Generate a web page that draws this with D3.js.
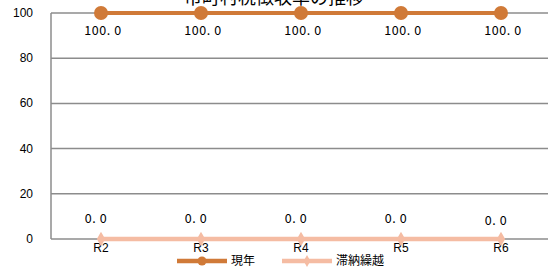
<!DOCTYPE html>
<html><head><meta charset="utf-8">
<script src="https://cdn.jsdelivr.net/npm/d3@7"></script>
<style>body{margin:0;background:#fff;overflow:hidden}</style>
</head><body>
<svg id="c" width="548" height="268"></svg>
<script>
const title = "市町村税徴収率の推移";
const categories = ["R2","R3","R4","R5","R6"];
const seriesNames = ["現年","滞納繰越"];
const currentYear = [100.0,100.0,100.0,100.0,100.0];
const arrears = [0.0,0.0,0.0,0.0,0.0];
const yTicks = [0,20,40,60,80,100];

const svg = d3.select("#c");
const W = 548, H = 268;
const m = {l:51, t:13, r:-3, b:29};
const x = d3.scaleBand().domain(categories).range([m.l, W - m.r]).padding(0);
const y = d3.scaleLinear().domain([0,100]).range([H - m.b, m.t]);
const cx = d => x(d) + x.bandwidth()/2;
const colA = "#D07A38", colB = "#F5BCA3", grid = "#8c8c8c";

svg.append("g").selectAll("line").data(yTicks).join("line")
  .attr("x1", m.l).attr("x2", W).attr("y1", d=>y(d)).attr("y2", d=>y(d))
  .attr("stroke", grid).attr("stroke-width", 1.5);
svg.append("line").attr("x1", m.l).attr("x2", m.l).attr("y1", y(100)).attr("y2", y(0))
  .attr("stroke", grid).attr("stroke-width", 1.5);
svg.append("g").selectAll("text").data(yTicks).join("text")
  .attr("x", 33).attr("y", d=>y(d)+4).attr("text-anchor","end")
  .attr("font-family","Liberation Sans, Arial, sans-serif").attr("font-size",12).attr("fill","#000")
  .text(d=>d);
svg.append("g").selectAll("text").data(categories).join("text")
  .attr("x", d=>cx(d)).attr("y", 252).attr("text-anchor","middle")
  .attr("font-family","Liberation Sans, Arial, sans-serif").attr("font-size",12).attr("fill","#000")
  .text(d=>d);

svg.append("text").attr("x", 274).attr("y", 4).attr("text-anchor","middle")
  .attr("font-family","Noto Sans CJK JP, sans-serif").attr("font-size",18).attr("fill","#000")
  .text(title);

const line = d3.line().x((d,i)=>cx(categories[i])).y(d=>y(d));
svg.append("path").datum(arrears).attr("d", line).attr("fill","none")
  .attr("stroke", colB).attr("stroke-width", 4.5);
svg.append("g").selectAll("path").data(arrears).join("path")
  .attr("d", d3.symbol(d3.symbolDiamond, 60))
  .attr("transform",(d,i)=>`translate(${cx(categories[i])},${y(d)})`)
  .attr("fill", colB);
svg.append("path").datum(currentYear).attr("d", line).attr("fill","none")
  .attr("stroke", colA).attr("stroke-width", 4);
svg.append("g").selectAll("circle").data(currentYear).join("circle")
  .attr("cx",(d,i)=>cx(categories[i])).attr("cy",d=>y(d)).attr("r",7)
  .attr("fill", colA);

const lblFont = "Noto Sans CJK JP, sans-serif";
const fmt = v => v.toFixed(1).replace(".", ". ");
svg.append("g").selectAll("text").data(currentYear).join("text")
  .attr("x",(d,i)=>cx(categories[i])+2).attr("y", d=>y(d)+22).attr("text-anchor","middle")
  .attr("font-family",lblFont).attr("font-size",12.5).attr("letter-spacing",0.6).attr("fill","#000")
  .style("white-space","pre").text(d=>fmt(d));
svg.append("g").selectAll("text").data(arrears).join("text")
  .attr("x",(d,i)=>cx(categories[i])-5).attr("y", (d,i)=>y(d)-16 + (i===4?2:0)).attr("text-anchor","middle")
  .attr("font-family",lblFont).attr("font-size",12.5).attr("letter-spacing",0.6).attr("fill","#000")
  .style("white-space","pre").text(d=>fmt(d));

const leg = [{n:seriesNames[0], c:colA, s:"circle", x0:177}, {n:seriesNames[1], c:colB, s:"diamond", x0:282}];
const ly = 261;
leg.forEach(L=>{
  const g = svg.append("g");
  g.append("line").attr("x1",L.x0).attr("x2",L.x0+50).attr("y1",ly).attr("y2",ly)
    .attr("stroke",L.c).attr("stroke-width",4.5);
  if (L.s==="circle") g.append("circle").attr("cx",L.x0+25).attr("cy",ly).attr("r",4.5).attr("fill",L.c);
  else g.append("path").attr("d",d3.symbol(d3.symbolDiamond,40)).attr("transform",`translate(${L.x0+25},${ly})`).attr("fill",L.c);
  g.append("text").attr("x",L.x0+54).attr("y",ly+4).attr("font-family","Noto Sans CJK JP, sans-serif")
    .attr("font-size",12).attr("fill","#000").text(L.n);
});
</script>
</body></html>
